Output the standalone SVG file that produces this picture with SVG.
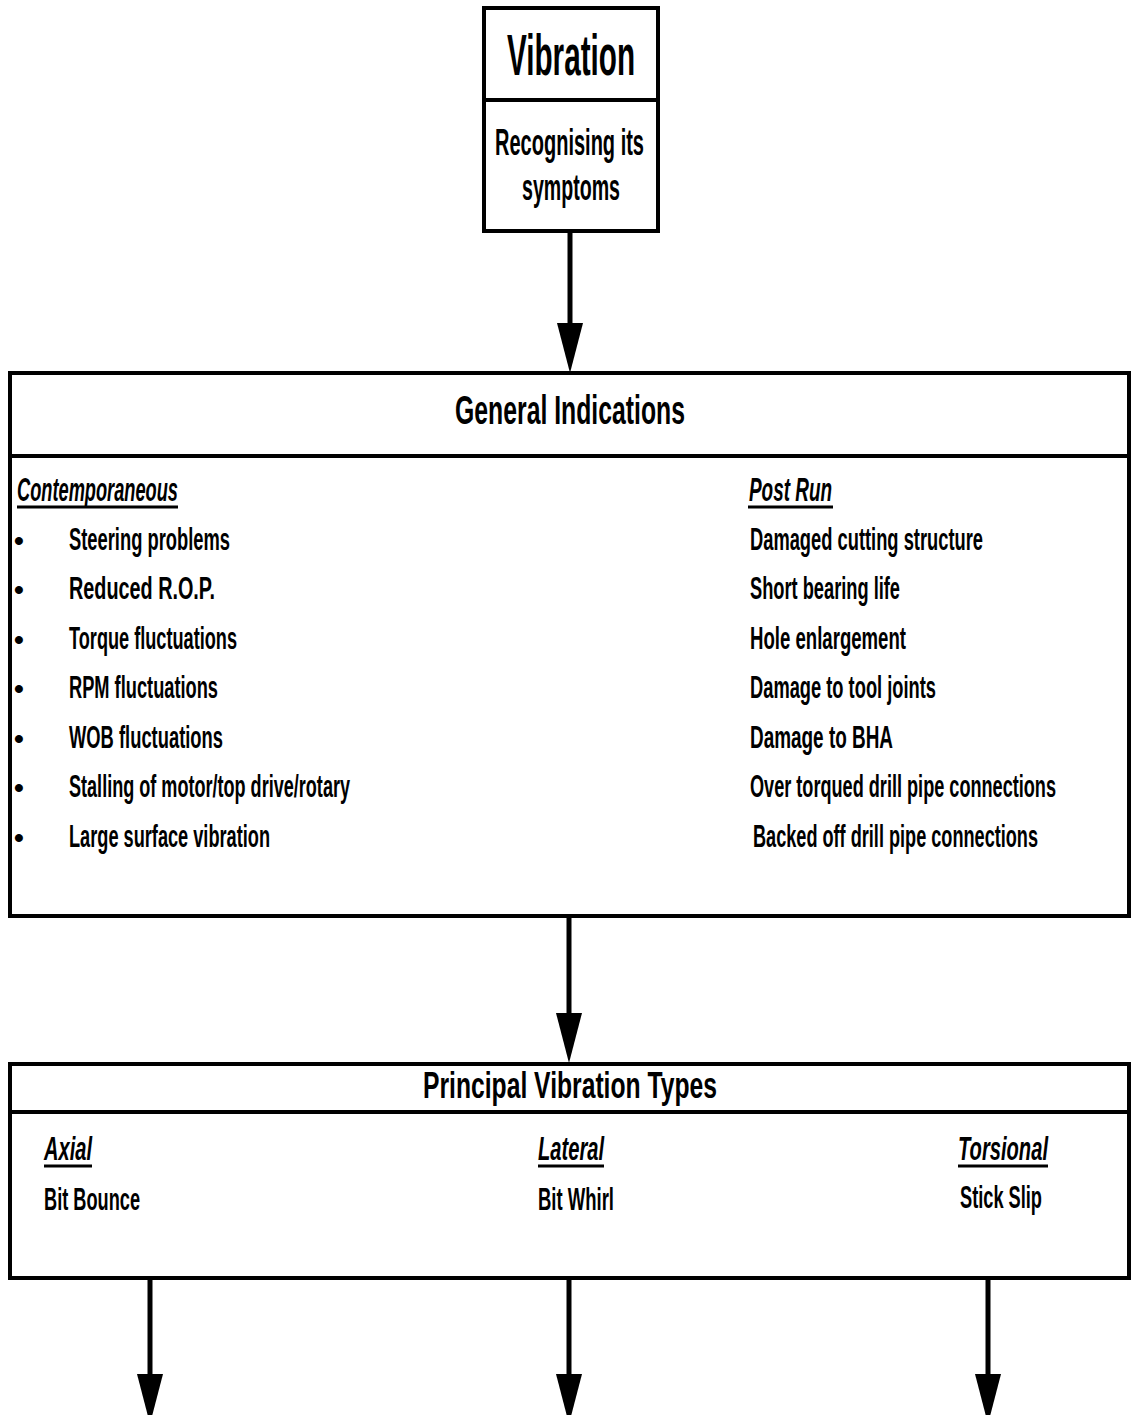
<svg xmlns="http://www.w3.org/2000/svg" width="1131" height="1415" viewBox="0 0 1131 1415">
<defs>
<style>
.box{fill:#fff;stroke:#000;stroke-width:4}
.div{stroke:#000;stroke-width:4}
.conn{stroke:#000;stroke-width:5;fill:none}
text{font-family:"Liberation Sans Narrow","Liberation Sans",Arial,sans-serif;font-weight:bold;fill:#000}
.t1{font-size:58px}
.t2{font-size:36px}
.hd{font-size:40px}
.it{font-size:32px}
.ul{stroke:#000;stroke-width:3}
.sub{font-size:34px;font-style:italic}
.bul{font-size:28px}
</style>
<marker id="ah" markerUnits="userSpaceOnUse" viewBox="0 -13 50 26" markerWidth="50" markerHeight="26" refX="30" refY="0" orient="auto">
<path d="M0,-13 L50,0 L0,13 Z" fill="#000"/>
</marker>
</defs>
<rect width="1131" height="1415" fill="#fff"/>

<g id="vibration">
<rect class="box" x="484" y="8" width="174" height="223"/>
<line class="div" x1="484" y1="100" x2="658" y2="100"/>
<text class="t1" x="507" y="75" textLength="128" lengthAdjust="spacingAndGlyphs">Vibration</text>
<text class="t2" x="495" y="155" textLength="149" lengthAdjust="spacingAndGlyphs">Recognising its</text>
<text class="t2" x="522" y="200" textLength="98" lengthAdjust="spacingAndGlyphs">symptoms</text>
</g>

<g id="general">
<rect class="box" x="10" y="373" width="1119" height="543"/>
<line class="div" x1="10" y1="456" x2="1129" y2="456"/>
<text class="hd" x="455" y="424" textLength="230" lengthAdjust="spacingAndGlyphs">General Indications</text>
<text class="sub" x="17" y="501" textLength="161" lengthAdjust="spacingAndGlyphs">Contemporaneous</text>
<line class="ul" x1="17" y1="507" x2="178" y2="507"/>
<text class="sub" x="749" y="501" textLength="83" lengthAdjust="spacingAndGlyphs">Post Run</text>
<line class="ul" x1="748" y1="507" x2="833" y2="507"/>

<text class="bul" x="14" y="550">•</text>
<text class="bul" x="14" y="599">•</text>
<text class="bul" x="14" y="649">•</text>
<text class="bul" x="14" y="698">•</text>
<text class="bul" x="14" y="748">•</text>
<text class="bul" x="14" y="797">•</text>
<text class="bul" x="14" y="847">•</text>

<text class="it" x="69" y="550" textLength="161" lengthAdjust="spacingAndGlyphs">Steering problems</text>
<text class="it" x="69" y="599" textLength="146" lengthAdjust="spacingAndGlyphs">Reduced R.O.P.</text>
<text class="it" x="69" y="649" textLength="168" lengthAdjust="spacingAndGlyphs">Torque fluctuations</text>
<text class="it" x="69" y="698" textLength="149" lengthAdjust="spacingAndGlyphs">RPM fluctuations</text>
<text class="it" x="69" y="748" textLength="154" lengthAdjust="spacingAndGlyphs">WOB fluctuations</text>
<text class="it" x="69" y="797" textLength="281" lengthAdjust="spacingAndGlyphs">Stalling of motor/top drive/rotary</text>
<text class="it" x="69" y="847" textLength="201" lengthAdjust="spacingAndGlyphs">Large surface vibration</text>

<text class="it" x="750" y="550" textLength="233" lengthAdjust="spacingAndGlyphs">Damaged cutting structure</text>
<text class="it" x="750" y="599" textLength="150" lengthAdjust="spacingAndGlyphs">Short bearing life</text>
<text class="it" x="750" y="649" textLength="156" lengthAdjust="spacingAndGlyphs">Hole enlargement</text>
<text class="it" x="750" y="698" textLength="186" lengthAdjust="spacingAndGlyphs">Damage to tool joints</text>
<text class="it" x="750" y="748" textLength="143" lengthAdjust="spacingAndGlyphs">Damage to BHA</text>
<text class="it" x="750" y="797" textLength="306" lengthAdjust="spacingAndGlyphs">Over torqued drill pipe connections</text>
<text class="it" x="753" y="847" textLength="285" lengthAdjust="spacingAndGlyphs">Backed off drill pipe connections</text>
</g>

<g id="principal">
<rect class="box" x="10" y="1064" width="1119" height="214"/>
<line class="div" x1="10" y1="1112" x2="1129" y2="1112"/>
<text class="t2" x="423" y="1098" textLength="294" lengthAdjust="spacingAndGlyphs">Principal Vibration Types</text>
<text class="sub" x="44" y="1160" textLength="48" lengthAdjust="spacingAndGlyphs">Axial</text>
<line class="ul" x1="44" y1="1166" x2="92" y2="1166"/>
<text class="it" x="44" y="1210" textLength="96" lengthAdjust="spacingAndGlyphs">Bit Bounce</text>
<text class="sub" x="538" y="1160" textLength="66" lengthAdjust="spacingAndGlyphs">Lateral</text>
<line class="ul" x1="538" y1="1166" x2="604" y2="1166"/>
<text class="it" x="538" y="1210" textLength="76" lengthAdjust="spacingAndGlyphs">Bit Whirl</text>
<text class="sub" x="958" y="1160" textLength="90" lengthAdjust="spacingAndGlyphs">Torsional</text>
<line class="ul" x1="958" y1="1166" x2="1048" y2="1166"/>
<text class="it" x="960" y="1208" textLength="82" lengthAdjust="spacingAndGlyphs">Stick Slip</text>
</g>

<g id="connectors">
<line class="conn" x1="570" y1="231" x2="570" y2="353" marker-end="url(#ah)"/>
<line class="conn" x1="569" y1="916" x2="569" y2="1043" marker-end="url(#ah)"/>
<line class="conn" x1="150" y1="1278" x2="150" y2="1404" marker-end="url(#ah)"/>
<line class="conn" x1="569" y1="1278" x2="569" y2="1404" marker-end="url(#ah)"/>
<line class="conn" x1="988" y1="1278" x2="988" y2="1404" marker-end="url(#ah)"/>
</g>
</svg>
